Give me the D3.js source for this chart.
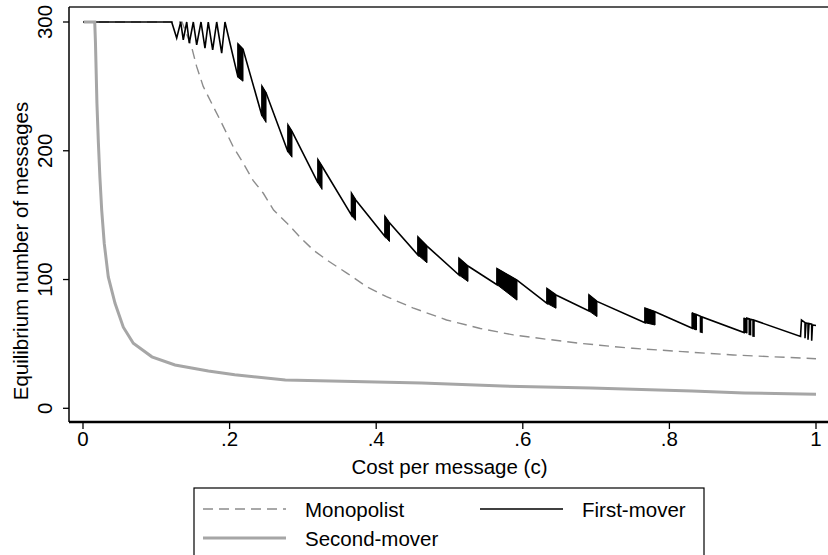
<!DOCTYPE html>
<html>
<head>
<meta charset="utf-8">
<script src="https://cdn.jsdelivr.net/npm/d3@7"></script>
<style>
  body { margin: 0; background: #fff; }
  text { font-family: "Liberation Sans", Arial, sans-serif; fill: #000; }
</style>
</head>
<body>
<svg id="chart" width="828" height="555"></svg>
<script>
// axis ticks
const xTicks = [0, 0.2, 0.4, 0.6, 0.8, 1];
const xTickLabels = ["0", ".2", ".4", ".6", ".8", "1"];
const yTicks = [0, 100, 200, 300];

// Monopolist (dashed gray)
const monoC = [0, 0.135, 0.148, 0.155, 0.164, 0.178, 0.187, 0.196, 0.205, 0.219, 0.232, 0.246, 0.260, 0.278,
  0.296, 0.314, 0.333, 0.360, 0.387, 0.414, 0.450, 0.496, 0.542, 0.587, 0.633, 0.678, 0.705, 0.724, 0.750,
  0.818, 0.887, 0.942, 1.0];
const monoV = [300, 300, 281, 265.5, 250, 234, 224, 213.5, 203, 190, 177, 167, 154, 144,
  133, 123, 115, 105, 94.5, 86.7, 78, 68.6, 62, 57, 53.6, 50.5, 49, 47.9, 46.6,
  44, 41.4, 40, 38.5];

// Second-mover (thick light gray)
const secondC = [0.001, 0.016, 0.017, 0.019, 0.021, 0.023, 0.0255, 0.029, 0.0345, 0.0437, 0.055, 0.0686, 0.094,
  0.1255, 0.171, 0.207, 0.276, 0.462, 0.572, 0.693, 0.831, 0.902, 0.981, 1.0];
const secondV = [300, 300, 284, 237, 206, 180, 154, 128, 102, 81.5, 63, 50.5, 40,
  33.6, 29, 26, 22, 19.6, 17.3, 15.8, 13.4, 11.9, 11.1, 11];

// First-mover (thin black, sawtooth)
const firstC = [0, 0.121, 0.1278, 0.1333, 0.1368, 0.1415, 0.145, 0.1505, 0.1551, 0.161, 0.1664, 0.1709, 0.1769,
  0.1824, 0.1892, 0.1937,
  0.2115, 0.2115, 0.2183, 0.2442, 0.2442, 0.2497, 0.2797, 0.2797, 0.2851, 0.3206, 0.3206, 0.3261,
  0.3663, 0.3663, 0.3718, 0.412, 0.412, 0.4181, 0.457, 0.457, 0.4693, 0.513, 0.513, 0.5252,
  0.5648, 0.5648, 0.5921, 0.633, 0.633, 0.6453, 0.6903, 0.6903, 0.7012, 0.7667, 0.7667, 0.7804,
  0.8312, 0.8312, 0.8329, 0.8329, 0.8347, 0.8347, 0.8366, 0.8366, 0.8424, 0.8424, 0.8445, 0.8445,
  0.9018, 0.9018, 0.9035, 0.9035, 0.9055, 0.9055, 0.909, 0.909, 0.9107, 0.9107, 0.9141, 0.9141, 0.9154, 0.9154,
  0.9789, 0.9802, 0.985, 0.985, 0.9864, 0.9891, 0.9891, 0.9905, 0.9941, 0.9941, 0.9952, 1.0];
const firstV = [300, 300, 287.5, 300, 286.2, 300, 283.6, 300, 282.3, 300, 279.7, 300, 278.4,
  300, 275.8, 300,
  257, 283, 279, 227, 250, 245, 199, 220, 215, 175, 193, 188,
  150, 167, 162, 133.5, 149, 144, 119, 133, 126, 103.5, 116.5, 110.5,
  96, 108.5, 99.5, 81.5, 93, 88, 75.6, 88, 83, 66.5, 77.7, 75,
  62.2, 74.3, 61.8, 73.9, 61.3, 73.4, 60.8, 72.8, 71.4, 59.3, 59, 71,
  58.8, 70.4, 58.5, 70.2, 58.2, 70, 69.4, 57.5, 57.3, 69.1, 68.6, 56.2, 56.1, 68.4,
  55.8, 68.6, 66.5, 54.4, 66.3, 66, 53.2, 65.8, 65.3, 52.5, 64.8, 64.3];

// dense oscillation blocks of the first-mover: [cLeft, cRight, hiLeft, hiRight, loLeft, loRight]
const firstBlocks = [
  [0.2115, 0.2183, 283, 279, 257, 254],
  [0.2442, 0.2497, 250, 245, 227, 222],
  [0.2797, 0.2851, 220, 215, 199, 195],
  [0.3206, 0.3261, 193, 188, 175, 170],
  [0.3663, 0.3718, 167, 162, 150, 146],
  [0.412, 0.4181, 149, 144, 133.5, 129.5],
  [0.457, 0.4693, 133, 126, 119, 113],
  [0.513, 0.5252, 116.5, 110.5, 103.5, 98.5],
  [0.5648, 0.5921, 108.5, 99.5, 96, 84],
  [0.633, 0.6453, 93, 88, 81.5, 77.7],
  [0.6903, 0.7012, 88, 83, 75.6, 71.2],
  [0.7667, 0.7804, 77.7, 75, 66.5, 64.7],
  [0.8312, 0.8366, 74.3, 72.8, 62.2, 60.8]
];

const svg = d3.select("#chart");
const fontSize = 20.5;

const x = d3.scaleLinear().domain([0, 1]).range([83, 816]);
const y = d3.scaleLinear().domain([0, 300]).range([408.3, 22]);

const plotLeft = 69, plotTop = 7, plotBottom = 422, plotRight = 830;

// plot region border
svg.append("line").attr("x1", plotLeft).attr("x2", plotRight).attr("y1", plotTop).attr("y2", plotTop)
  .attr("stroke", "#222").attr("stroke-width", 1.3);

const line = d3.line().x(d => x(d[0])).y(d => y(d[1]));

// monopolist
svg.append("path")
  .datum(d3.zip(monoC, monoV))
  .attr("d", line)
  .attr("fill", "none")
  .attr("stroke", "#8c8c8c")
  .attr("stroke-width", 1.4)
  .attr("stroke-dasharray", "10,6");

// first-mover blocks
svg.selectAll("path.block")
  .data(firstBlocks)
  .join("path")
  .attr("class", "block")
  .attr("d", b => line([[b[0], b[2]], [b[1], b[3]], [b[1], b[5]], [b[0], b[4]]]) + "Z")
  .attr("fill", "#000")
  .attr("stroke", "#000")
  .attr("stroke-width", 1);

// first-mover line
svg.append("path")
  .datum(d3.zip(firstC, firstV))
  .attr("d", line)
  .attr("fill", "none")
  .attr("stroke", "#000")
  .attr("stroke-width", 1.6)
  .attr("stroke-linejoin", "miter");

// second-mover
svg.append("path")
  .datum(d3.zip(secondC, secondV))
  .attr("d", line)
  .attr("fill", "none")
  .attr("stroke", "#a6a6a6")
  .attr("stroke-width", 3);

// y axis
svg.append("line").attr("x1", plotLeft).attr("x2", plotLeft).attr("y1", plotTop).attr("y2", plotBottom)
  .attr("stroke", "#000").attr("stroke-width", 1.5);
svg.selectAll("line.ytick").data(yTicks).join("line")
  .attr("class", "ytick")
  .attr("x1", 63).attr("x2", plotLeft)
  .attr("y1", d => y(d)).attr("y2", d => y(d))
  .attr("stroke", "#000").attr("stroke-width", 1.3);
svg.selectAll("text.ylab").data(yTicks).join("text")
  .attr("class", "ylab")
  .attr("transform", d => `translate(51.5,${y(d)}) rotate(-90)`)
  .attr("text-anchor", "middle")
  .attr("font-size", fontSize)
  .text(d => d);

// x axis
svg.append("line").attr("x1", plotLeft).attr("x2", plotRight).attr("y1", plotBottom).attr("y2", plotBottom)
  .attr("stroke", "#000").attr("stroke-width", 2.5);
svg.selectAll("line.xtick").data(xTicks).join("line")
  .attr("class", "xtick")
  .attr("x1", d => x(d)).attr("x2", d => x(d))
  .attr("y1", plotBottom).attr("y2", 429)
  .attr("stroke", "#000").attr("stroke-width", 1.3);
svg.selectAll("text.xlab").data(xTicks).join("text")
  .attr("class", "xlab")
  .attr("x", d => x(d)).attr("y", 446)
  .attr("text-anchor", "middle")
  .attr("font-size", fontSize)
  .text((d, i) => xTickLabels[i]);

// titles
svg.append("text")
  .attr("x", (plotLeft + plotRight) / 2).attr("y", 474)
  .attr("text-anchor", "middle")
  .attr("font-size", fontSize)
  .text("Cost per message (c)");
svg.append("text")
  .attr("transform", "translate(28,251) rotate(-90)")
  .attr("text-anchor", "middle")
  .attr("font-size", fontSize)
  .text("Equilibrium number of messages");

// legend
const legend = svg.append("g");
legend.append("rect")
  .attr("x", 194).attr("y", 488).attr("width", 510).attr("height", 90)
  .attr("fill", "#fff").attr("stroke", "#000").attr("stroke-width", 1.2);
const legendItems = [
  { label: "Monopolist", x: 203, y: 509, color: "#8c8c8c", width: 1.4, dash: "10,6" },
  { label: "First-mover", x: 480, y: 509, color: "#000", width: 1.4, dash: null },
  { label: "Second-mover", x: 203, y: 538, color: "#a6a6a6", width: 3, dash: null }
];
legendItems.forEach(it => {
  legend.append("line")
    .attr("x1", it.x).attr("x2", it.x + 83).attr("y1", it.y).attr("y2", it.y)
    .attr("stroke", it.color).attr("stroke-width", it.width)
    .attr("stroke-dasharray", it.dash);
  legend.append("text")
    .attr("x", it.x + 102).attr("y", it.y + 7.5)
    .attr("font-size", fontSize)
    .text(it.label);
});
</script>
</body>
</html>
